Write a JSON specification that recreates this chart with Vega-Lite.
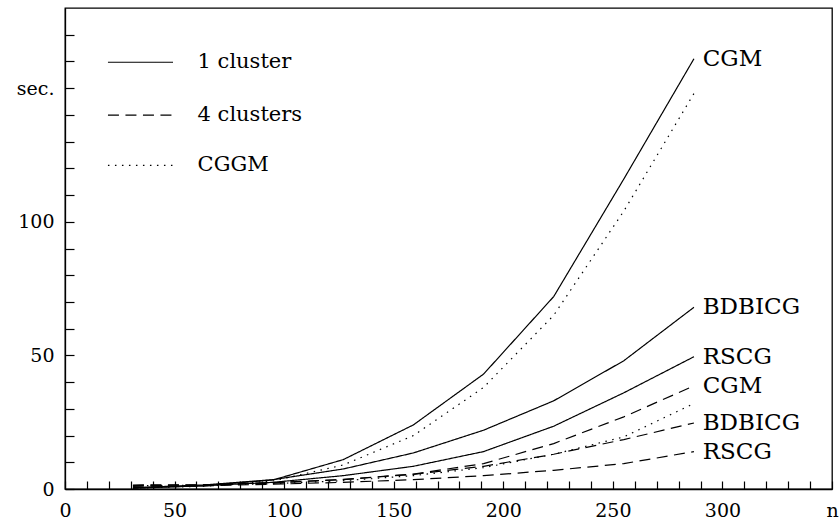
{
  "$schema": "https://vega.github.io/schema/vega-lite/v6.json",
  "width": 767,
  "height": 481,
  "autosize": {"type": "none"},
  "padding": {"left": 65, "top": 8, "right": 8, "bottom": 40},
  "background": "white",
  "config": {
    "view": {"stroke": "black", "strokeWidth": 1.3},
    "font": "DejaVu Serif",
    "axis": {"grid": false, "domainColor": "black", "tickColor": "black", "labelColor": "black", "labelFont": "DejaVu Serif", "labelFontSize": 19, "title": null, "domainWidth": 1.3, "tickWidth": 1.2, "labelOverlap": false}
  },
  "datasets": {
    "curves": [
      {"series": "CGM 1", "style": "solid", "n": 31, "t": 0.3},
      {"series": "CGM 1", "style": "solid", "n": 63, "t": 1.2},
      {"series": "CGM 1", "style": "solid", "n": 95, "t": 3.4},
      {"series": "CGM 1", "style": "solid", "n": 127, "t": 11},
      {"series": "CGM 1", "style": "solid", "n": 159, "t": 24},
      {"series": "CGM 1", "style": "solid", "n": 191, "t": 43},
      {"series": "CGM 1", "style": "solid", "n": 223, "t": 72},
      {"series": "CGM 1", "style": "solid", "n": 255, "t": 116},
      {"series": "CGM 1", "style": "solid", "n": 287, "t": 161},
      {"series": "CGGM 1", "style": "dotted", "n": 31, "t": 0.3},
      {"series": "CGGM 1", "style": "dotted", "n": 63, "t": 1},
      {"series": "CGGM 1", "style": "dotted", "n": 95, "t": 3},
      {"series": "CGGM 1", "style": "dotted", "n": 127, "t": 9},
      {"series": "CGGM 1", "style": "dotted", "n": 159, "t": 20},
      {"series": "CGGM 1", "style": "dotted", "n": 191, "t": 38},
      {"series": "CGGM 1", "style": "dotted", "n": 223, "t": 65},
      {"series": "CGGM 1", "style": "dotted", "n": 255, "t": 104},
      {"series": "CGGM 1", "style": "dotted", "n": 287, "t": 148},
      {"series": "BDBICG 1", "style": "solid", "n": 31, "t": 0.5},
      {"series": "BDBICG 1", "style": "solid", "n": 63, "t": 1.5},
      {"series": "BDBICG 1", "style": "solid", "n": 95, "t": 3.5},
      {"series": "BDBICG 1", "style": "solid", "n": 127, "t": 7.5},
      {"series": "BDBICG 1", "style": "solid", "n": 159, "t": 13.5},
      {"series": "BDBICG 1", "style": "solid", "n": 191, "t": 22},
      {"series": "BDBICG 1", "style": "solid", "n": 223, "t": 33},
      {"series": "BDBICG 1", "style": "solid", "n": 255, "t": 48},
      {"series": "BDBICG 1", "style": "solid", "n": 287, "t": 68},
      {"series": "RSCG 1", "style": "solid", "n": 31, "t": 0.4},
      {"series": "RSCG 1", "style": "solid", "n": 63, "t": 1.2},
      {"series": "RSCG 1", "style": "solid", "n": 95, "t": 2.5},
      {"series": "RSCG 1", "style": "solid", "n": 127, "t": 5},
      {"series": "RSCG 1", "style": "solid", "n": 159, "t": 8.5},
      {"series": "RSCG 1", "style": "solid", "n": 191, "t": 14},
      {"series": "RSCG 1", "style": "solid", "n": 223, "t": 23.5},
      {"series": "RSCG 1", "style": "solid", "n": 255, "t": 36},
      {"series": "RSCG 1", "style": "solid", "n": 287, "t": 49.5},
      {"series": "CGM 4", "style": "dashed", "n": 31, "t": 1.5},
      {"series": "CGM 4", "style": "dashed", "n": 63, "t": 1.6},
      {"series": "CGM 4", "style": "dashed", "n": 95, "t": 2.2},
      {"series": "CGM 4", "style": "dashed", "n": 127, "t": 3.6},
      {"series": "CGM 4", "style": "dashed", "n": 159, "t": 5.6},
      {"series": "CGM 4", "style": "dashed", "n": 191, "t": 9.5},
      {"series": "CGM 4", "style": "dashed", "n": 223, "t": 17},
      {"series": "CGM 4", "style": "dashed", "n": 255, "t": 27},
      {"series": "CGM 4", "style": "dashed", "n": 287, "t": 38.6},
      {"series": "CGGM 4", "style": "dotted", "n": 31, "t": 1.2},
      {"series": "CGGM 4", "style": "dotted", "n": 63, "t": 1.4},
      {"series": "CGGM 4", "style": "dotted", "n": 95, "t": 2},
      {"series": "CGGM 4", "style": "dotted", "n": 127, "t": 3.1},
      {"series": "CGGM 4", "style": "dotted", "n": 159, "t": 5},
      {"series": "CGGM 4", "style": "dotted", "n": 191, "t": 8},
      {"series": "CGGM 4", "style": "dotted", "n": 223, "t": 13},
      {"series": "CGGM 4", "style": "dotted", "n": 255, "t": 19.5},
      {"series": "CGGM 4", "style": "dotted", "n": 287, "t": 32},
      {"series": "BDBICG 4", "style": "dashed", "n": 31, "t": 1.3},
      {"series": "BDBICG 4", "style": "dashed", "n": 63, "t": 1.5},
      {"series": "BDBICG 4", "style": "dashed", "n": 95, "t": 2.4},
      {"series": "BDBICG 4", "style": "dashed", "n": 127, "t": 3.5},
      {"series": "BDBICG 4", "style": "dashed", "n": 159, "t": 5.5},
      {"series": "BDBICG 4", "style": "dashed", "n": 191, "t": 8.5},
      {"series": "BDBICG 4", "style": "dashed", "n": 223, "t": 13},
      {"series": "BDBICG 4", "style": "dashed", "n": 255, "t": 18.5},
      {"series": "BDBICG 4", "style": "dashed", "n": 287, "t": 24.7},
      {"series": "RSCG 4", "style": "dashed", "n": 31, "t": 1},
      {"series": "RSCG 4", "style": "dashed", "n": 63, "t": 1.2},
      {"series": "RSCG 4", "style": "dashed", "n": 95, "t": 1.8},
      {"series": "RSCG 4", "style": "dashed", "n": 127, "t": 2.5},
      {"series": "RSCG 4", "style": "dashed", "n": 159, "t": 3.5},
      {"series": "RSCG 4", "style": "dashed", "n": 191, "t": 5},
      {"series": "RSCG 4", "style": "dashed", "n": 223, "t": 7},
      {"series": "RSCG 4", "style": "dashed", "n": 255, "t": 9.5},
      {"series": "RSCG 4", "style": "dashed", "n": 287, "t": 14}
    ],
    "endlabels": [
      {"label": "CGM", "n": 291, "t": 161},
      {"label": "BDBICG", "n": 291, "t": 68},
      {"label": "RSCG", "n": 291, "t": 49.5},
      {"label": "CGM", "n": 291, "t": 38.6},
      {"label": "BDBICG", "n": 291, "t": 24.7},
      {"label": "RSCG", "n": 291, "t": 13.9}
    ],
    "legend": [
      {"label": "1 cluster", "style": "solid", "x1": 19.6, "x2": 49.3, "t": 159.7, "tx": 60.5},
      {"label": "4 clusters", "style": "dashed", "x1": 19.6, "x2": 49.3, "t": 139.9, "tx": 60.5},
      {"label": "CGGM", "style": "dotted", "x1": 19.6, "x2": 49.3, "t": 121.1, "tx": 60.5}
    ]
  },
  "layer": [
    {
      "data": {"name": "curves"},
      "mark": {"type": "line", "color": "black", "strokeWidth": 1.2},
      "encoding": {
        "x": {
          "field": "n", "type": "quantitative",
          "scale": {"domain": [0, 350], "nice": false, "zero": true},
          "axis": {
            "values": [0,10,20,30,40,50,60,70,80,90,100,110,120,130,140,150,160,170,180,190,200,210,220,230,240,250,260,270,280,290,300,310,320,330,340,350],
            "tickCount": 100,
            "labelExpr": "datum.value == 350 ? 'n' : (datum.value % 50 == 0 ? datum.label : '')",
            "labelOverlap": false, "labelFlush": false,
            "tickSize": -8, "labelPadding": 20, "labelBound": false
          }
        },
        "y": {
          "field": "t", "type": "quantitative",
          "scale": {"domain": [0, 180], "nice": false},
          "axis": {
            "values": [0,10,20,30,40,50,60,70,80,90,100,110,120,130,140,150,160,170],
            "tickCount": 100,
            "labelExpr": "datum.value == 150 ? 'sec.' : (datum.value % 50 == 0 ? datum.label : '')",
            "labelOverlap": false, "labelFlush": false,
            "tickSize": -9, "labelPadding": 20, "labelBound": false
          }
        },
        "detail": {"field": "series"},
        "strokeDash": {
          "field": "style", "type": "nominal",
          "scale": {"domain": ["solid", "dashed", "dotted"], "range": [[1, 0], [11, 6.5], [1.5, 5.5]]},
          "legend": null
        }
      }
    },
    {
      "data": {"name": "endlabels"},
      "mark": {"type": "text", "align": "left", "baseline": "middle", "font": "DejaVu Serif", "fontSize": 23, "color": "black"},
      "encoding": {
        "x": {"field": "n", "type": "quantitative"},
        "y": {"field": "t", "type": "quantitative"},
        "text": {"field": "label"}
      }
    },
    {
      "data": {"name": "legend"},
      "mark": {"type": "rule", "color": "black", "strokeWidth": 1.2},
      "encoding": {
        "x": {"field": "x1", "type": "quantitative"},
        "x2": {"field": "x2"},
        "y": {"field": "t", "type": "quantitative"},
        "strokeDash": {
          "field": "style", "type": "nominal",
          "scale": {"domain": ["solid", "dashed", "dotted"], "range": [[1, 0], [11, 6.5], [1.5, 5.5]]},
          "legend": null
        }
      }
    },
    {
      "data": {"name": "legend"},
      "mark": {"type": "text", "align": "left", "baseline": "middle", "font": "DejaVu Serif", "fontSize": 21, "color": "black"},
      "encoding": {
        "x": {"field": "tx", "type": "quantitative"},
        "y": {"field": "t", "type": "quantitative"},
        "text": {"field": "label"}
      }
    }
  ]
}
